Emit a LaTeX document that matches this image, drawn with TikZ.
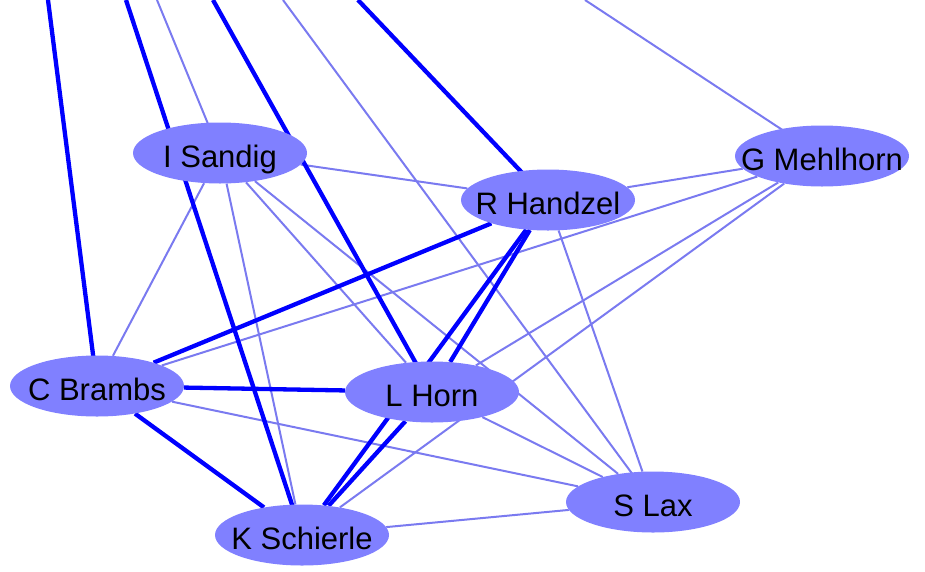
\documentclass[tikz,border=0pt]{standalone}
\usepackage{fontspec}
\setmainfont{Liberation Sans}
\usepackage{tikz}
\usetikzlibrary{shapes.geometric}
\usetikzlibrary{backgrounds}
\definecolor{nodefill}{HTML}{8080FF}
\definecolor{strong}{HTML}{0000FF}
\definecolor{weak}{HTML}{7A7AF0}
\newcommand{\who}[1]{\makebox[0pt]{#1}}
\tikzset{
	person/.style={ellipse,fill=nodefill,draw=none,inner sep=0pt,minimum width=174pt,minimum height=61pt,text height=28pt,text depth=0pt,font=\fontsize{31}{36}\selectfont},
	tie/.style={strong,line width=4.3pt},
	link/.style={weak,line width=2pt}
}

\begin{document}
\begin{tikzpicture}[x=1pt,y=-1pt]
	\useasboundingbox (0,0) rectangle (925,571);
	\node[person] (sandig) at (220,153) {\who{I Sandig}};
	\node[person] (mehlhorn) at (822,156) {\who{G Mehlhorn}};
	\node[person] (handzel) at (548,200) {\who{R Handzel}};
	\node[person] (brambs) at (97,386) {\who{C Brambs}};
	\node[person] (horn) at (432,392) {\who{L Horn}};
	\node[person] (schierle) at (302,535) {\who{K Schierle}};
	\node[person] (lax) at (653,502) {\who{S Lax}};
	% edges leaving the top of the picture
	\coordinate (out1) at (48,0);
	\coordinate (out2) at (126,0);
	\coordinate (out3) at (157,0);
	\coordinate (out4) at (213,0);
	\coordinate (out5) at (283,0);
	\coordinate (out6) at (358,0);
	\coordinate (out7) at (585,0);
	\begin{scope}[on background layer]
		\draw[link] (sandig.center) -- (out3);
		\draw[link] (lax.center) -- (out5);
		\draw[link] (mehlhorn.center) -- (out7);
		\draw[link] (sandig) -- (handzel);
		\draw[link] (sandig) -- (brambs);
		\draw[link] (sandig) -- (schierle);
		\draw[link] (sandig) -- (horn);
		\draw[link] (sandig) -- (lax);
		\draw[link] (handzel) -- (mehlhorn);
		\draw[link] (handzel) -- (lax);
		\draw[link] (mehlhorn) -- (brambs);
		\draw[link] (mehlhorn) -- (horn);
		\draw[link] (mehlhorn) -- (schierle);
		\draw[link] (horn) -- (lax);
		\draw[link] (brambs) -- (lax);
		\draw[link] (schierle) -- (lax);
		\draw[tie] (brambs.center) -- (out1);
		\draw[tie] (schierle.center) -- (out2);
		\draw[tie] (horn.center) -- (out4);
		\draw[tie] (handzel.center) -- (out6);
		\draw[tie] (brambs) -- (handzel);
		\draw[tie] (brambs) -- (horn);
		\draw[tie] (brambs) -- (schierle);
		\draw[tie] (handzel) -- (horn);
		\draw[tie] (handzel) -- (schierle);
		\draw[tie] (horn) -- (schierle);
	\end{scope}
\end{tikzpicture}
\end{document}
